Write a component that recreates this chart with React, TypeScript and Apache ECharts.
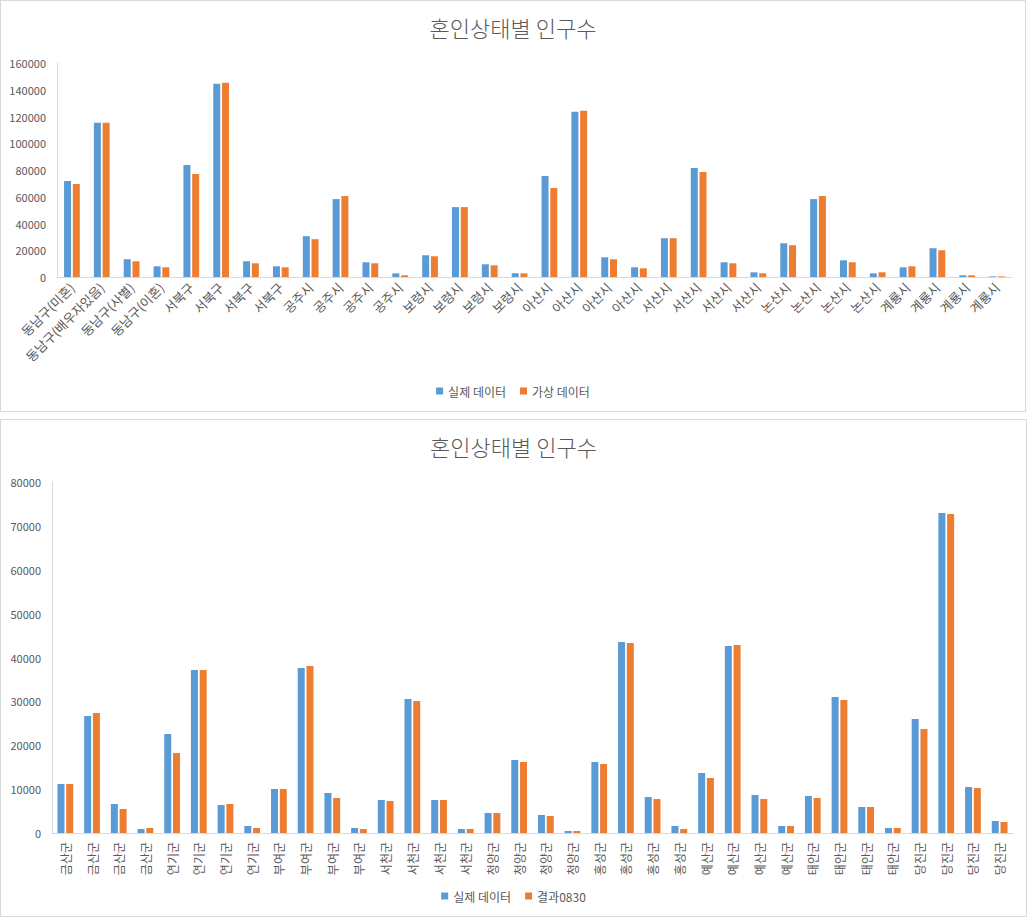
import React, { useEffect, useRef } from "react";
import * as echarts from "echarts";

const topCategories = [
  "동남구(미혼)", "동남구(배우자있음)", "동남구(사별)", "동남구(이혼)",
  "서북구", "서북구", "서북구", "서북구",
  "공주시", "공주시", "공주시", "공주시",
  "보령시", "보령시", "보령시", "보령시",
  "아산시", "아산시", "아산시", "아산시",
  "서산시", "서산시", "서산시", "서산시",
  "논산시", "논산시", "논산시", "논산시",
  "계룡시", "계룡시", "계룡시", "계룡시",
];
const topActual = [
  71750, 115250, 13250, 8000,
  83750, 144500, 11750, 8000,
  30500, 58250, 11000, 2750,
  16250, 52250, 9500, 2750,
  75500, 123500, 14750, 7250,
  29000, 81500, 11000, 3500,
  25250, 58250, 12500, 2750,
  7250, 21500, 1250, 500,
];
const topVirtual = [
  69500, 115250, 11750, 7250,
  77000, 145250, 10250, 7250,
  28250, 60500, 10250, 1250,
  15500, 52250, 8750, 2750,
  66500, 124250, 13250, 6500,
  29000, 78500, 10250, 2750,
  23750, 60500, 11000, 3500,
  8000, 20000, 1250, 500,
];

const bottomCategories = [
  "금산군", "금산군", "금산군", "금산군",
  "연기군", "연기군", "연기군", "연기군",
  "부여군", "부여군", "부여군", "부여군",
  "서천군", "서천군", "서천군", "서천군",
  "청양군", "청양군", "청양군", "청양군",
  "홍성군", "홍성군", "홍성군", "홍성군",
  "예산군", "예산군", "예산군", "예산군",
  "태안군", "태안군", "태안군", "태안군",
  "당진군", "당진군", "당진군", "당진군",
];
const bottomActual = [
  11170, 26670, 6610, 910,
  22560, 37150, 6380, 1600,
  10030, 37600, 9120, 1140,
  7520, 30540, 7520, 910,
  4560, 16640, 4100, 460,
  16180, 43530, 8200, 1600,
  13670, 42620, 8660, 1600,
  8430, 31000, 5930, 1140,
  25980, 72930, 10480, 2740,
];
const bottomResult = [
  11170, 27350, 5470, 1140,
  18230, 37150, 6610, 1140,
  10030, 38060, 7980, 910,
  7290, 30080, 7520, 910,
  4560, 16180, 3870, 460,
  15730, 43300, 7750, 910,
  12540, 42850, 7750, 1600,
  7980, 30310, 5930, 1140,
  23700, 72700, 10260, 2510,
];

const titleText = "혼인상태별 인구수";
const seriesNamesTop = ["실제 데이터", "가상 데이터"];
const seriesNamesBottom = ["실제 데이터", "결과0830"];

const FONT = '"Noto Sans CJK KR", "Noto Sans", sans-serif';
const TEXT = "#595959";
const AXIS = "#d9d9d9";
const BLUE = "#5B9BD5";
const ORANGE = "#ED7D31";

function makeOption(opts: {
  categories: string[];
  a: number[];
  b: number[];
  names: string[];
  max: number;
  interval: number;
  grid: any;
  rotate: number;
  legendTop: number;
  labelMargin: number;
  labelSize: number;
}) {
  return {
    animation: false,
    textStyle: { fontFamily: FONT },
    title: {
      text: titleText,
      left: "center",
      top: 10,
      textStyle: { fontFamily: FONT, fontSize: 22, fontWeight: 300, color: TEXT },
    },
    legend: {
      data: opts.names,
      left: "center",
      top: opts.legendTop,
      icon: "rect",
      itemWidth: 7,
      itemHeight: 7,
      itemGap: 14,
      textStyle: { fontFamily: FONT, fontSize: 12, color: TEXT },
    },
    grid: opts.grid,
    xAxis: {
      type: "category",
      data: opts.categories,
      axisLine: { show: true, lineStyle: { color: AXIS, width: 1 } },
      axisTick: { show: false },
      axisLabel: {
        interval: 0,
        rotate: opts.rotate,
        margin: opts.labelMargin,
        color: TEXT,
        fontFamily: FONT,
        fontSize: opts.labelSize,
      },
    },
    yAxis: {
      type: "value",
      min: 0,
      max: opts.max,
      interval: opts.interval,
      axisLine: { show: true, lineStyle: { color: AXIS, width: 1 } },
      axisTick: { show: false },
      splitLine: { show: false },
      axisLabel: {
        color: TEXT,
        fontFamily: FONT,
        fontSize: 11,
        margin: 11,
        formatter: (v: number) => String(v),
      },
    },
    series: [
      {
        name: opts.names[0],
        type: "bar",
        data: opts.a,
        barWidth: 7,
        barGap: "25%",
        itemStyle: { color: BLUE },
      },
      {
        name: opts.names[1],
        type: "bar",
        data: opts.b,
        barWidth: 7,
        barGap: "25%",
        itemStyle: { color: ORANGE },
      },
    ],
  };
}

function Chart({ option, style }: { option: any; style: React.CSSProperties }) {
  const ref = useRef<HTMLDivElement>(null);
  useEffect(() => {
    if (!ref.current) return;
    const chart = echarts.init(ref.current, undefined, { renderer: "svg" });
    chart.setOption(option);
    return () => chart.dispose();
  }, [option]);
  return <div ref={ref} style={style} />;
}

const topOption = makeOption({
  categories: topCategories,
  a: topActual,
  b: topVirtual,
  names: seriesNamesTop,
  max: 160000,
  interval: 20000,
  grid: { left: 56, right: 13, top: 62, bottom: 134, containLabel: false },
  rotate: 45,
  legendTop: 379,
  labelMargin: 8,
  labelSize: 13,
});

const bottomOption = makeOption({
  categories: bottomCategories,
  a: bottomActual,
  b: bottomResult,
  names: seriesNamesBottom,
  max: 80000,
  interval: 10000,
  grid: { left: 51, right: 13, top: 62, bottom: 83, containLabel: false },
  rotate: 90,
  legendTop: 465,
  labelMargin: 9,
  labelSize: 12,
});

export default function App() {
  return (
    <div style={{ position: "absolute", left: 0, top: 0, width: 1027, height: 917, background: "#fff" }}>
      <div
        style={{
          position: "absolute",
          left: 0,
          top: 0,
          width: 1026,
          height: 412,
          border: "1px solid #d9d9d9",
          boxSizing: "border-box",
        }}
      >
        <Chart option={topOption} style={{ width: 1024, height: 410 }} />
      </div>
      <div
        style={{
          position: "absolute",
          left: 0,
          top: 419,
          width: 1027,
          height: 498,
          border: "1px solid #d9d9d9",
          boxSizing: "border-box",
        }}
      >
        <Chart option={bottomOption} style={{ width: 1025, height: 496 }} />
      </div>
    </div>
  );
}
